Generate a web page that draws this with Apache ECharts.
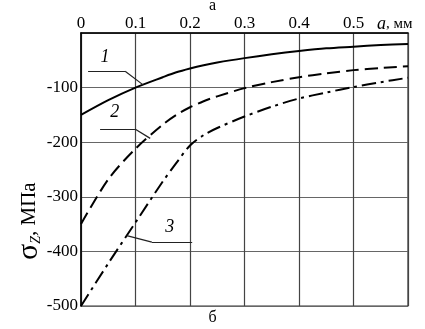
<!DOCTYPE html>
<html>
<head>
<meta charset="utf-8">
<script src="https://cdn.jsdelivr.net/npm/echarts@6/dist/echarts.min.js"></script>
<style>
  html, body { margin: 0; padding: 0; background: #fff; }
  #chart { width: 425px; height: 329px; }
</style>
</head>
<body>
<div id="chart"></div>
<script>
// глубина a, мм
const depth = [0, 0.05, 0.1, 0.15, 0.175, 0.2, 0.225, 0.25, 0.3, 0.35, 0.4, 0.45, 0.5, 0.55, 0.6];
// напряжения σz, МПа
const curve1 = [-150, -123, -100, -81, -72, -65, -59, -54, -46, -39, -33, -28, -25, -22, -20];
const curve2 = [-350, -268, -212, -168, -150, -136, -125, -116, -101, -90, -81, -74, -68, -64, -61];
const curve3 = [-500, -422, -347, -272, -238, -206, -187, -174, -153, -135, -120, -109, -99, -90, -82];

const xTicks = ['0', '0.1', '0.2', '0.3', '0.4', '0.5'];

// выноски: [x, y] в координатах графика
const leader1 = [[0.013, -70], [0.081, -70], [0.114, -95]];
const leader2 = [[0.035, -176], [0.099, -176], [0.127, -193]];
const leader3 = [[0.084, -371], [0.130, -383], [0.204, -383]];
const labelPos = [[0.044, -45, '1'], [0.062, -146, '2'], [0.163, -355, '3']];

const font = "'Liberation Serif', serif";

function pairs(arr) {
  return depth.map((d, i) => [d, arr[i]]);
}
function leaderLines(pts) {
  let segs = [];
  for (let i = 0; i < pts.length - 1; i++) {
    segs.push([{ coord: pts[i] }, { coord: pts[i + 1] }]);
  }
  return segs;
}

const chart = echarts.init(document.getElementById('chart'));

const lineBase = {
  type: 'line',
  smooth: 0.3,
  symbol: 'none',
  silent: true
};

chart.setOption({
  animation: false,
  grid: {
    left: 81, right: 17, top: 33, bottom: 23,
    show: true, borderColor: '#333', borderWidth: 1.2
  },
  xAxis: {
    type: 'value',
    position: 'top',
    min: 0, max: 0.6, interval: 0.1,
    axisLine: { show: true, lineStyle: { color: '#000', width: 1.5 } },
    axisTick: { show: false },
    splitLine: { show: true, lineStyle: { color: '#444', width: 1.2 } },
    axisLabel: {
      fontFamily: font, fontSize: 17, color: '#000', margin: 1,
      formatter: function (v) {
        let i = Math.round(v * 10);
        return i < xTicks.length ? xTicks[i] : '';
      }
    }
  },
  yAxis: {
    type: 'value',
    min: -500, max: 0, interval: 100,
    axisLine: { show: true, lineStyle: { color: '#000', width: 1.5 } },
    axisTick: { show: false },
    splitLine: { show: true, lineStyle: { color: '#666', width: 1.2 } },
    axisLabel: {
      fontFamily: font, fontSize: 17, color: '#000', margin: 3,
      formatter: function (v) { return v === 0 ? '' : String(v); }
    }
  },
  graphic: [
    {
      type: 'text', left: 'center', top: -2,
      style: { text: 'а', font: '16px "Liberation Serif"', fill: '#000' }
    },
    {
      type: 'text', left: 'center', top: 310,
      style: { text: 'б', font: '16px "Liberation Serif"', fill: '#000' }
    },
    {
      type: 'text', x: 377, y: 15,
      style: {
        text: '{i|a}, мм',
        rich: {
          i: { fontFamily: font, fontStyle: 'italic', fontSize: 18, fill: '#000' }
        },
        fontFamily: font, fontSize: 15, fill: '#000'
      }
    },
    {
      type: 'text', x: 14, y: 260, rotation: Math.PI / 2,
      style: {
        text: '{s|σ}{z|Z}{n|, МПа}',
        rich: {
          s: { fontFamily: font, fontSize: 30, fill: '#000' },
          z: { fontFamily: font, fontStyle: 'italic', fontSize: 14, fill: '#000', padding: [14, 0, 0, 0] },
          n: { fontFamily: font, fontSize: 21, fill: '#000' }
        }
      }
    }
  ],
  series: [
    Object.assign({}, lineBase, {
      name: '1',
      data: pairs(curve1),
      lineStyle: { color: '#000', width: 2 },
      markLine: {
        silent: true, symbol: 'none', label: { show: false },
        lineStyle: { color: '#222', width: 1.2, type: 'solid' },
        data: leaderLines(leader1)
      },
      markPoint: {
        symbol: 'circle', symbolSize: 0,
        label: {
          show: true, formatter: '{b}', color: '#000',
          fontFamily: font, fontStyle: 'italic', fontSize: 18
        },
        data: labelPos.map(p => ({ coord: [p[0], p[1]], name: p[2], value: p[2] }))
      }
    }),
    Object.assign({}, lineBase, {
      name: '2',
      data: pairs(curve2),
      lineStyle: { color: '#000', width: 2, type: [13, 6] },
      markLine: {
        silent: true, symbol: 'none', label: { show: false },
        lineStyle: { color: '#222', width: 1.2, type: 'solid' },
        data: leaderLines(leader2)
      }
    }),
    Object.assign({}, lineBase, {
      name: '3',
      data: pairs(curve3),
      lineStyle: { color: '#000', width: 2, type: [14, 5, 3, 5] },
      markLine: {
        silent: true, symbol: 'none', label: { show: false },
        lineStyle: { color: '#222', width: 1.2, type: 'solid' },
        data: leaderLines(leader3)
      }
    })
  ]
});

window.addEventListener('resize', () => {
  chart.resize();
});
</script>
</body>
</html>
